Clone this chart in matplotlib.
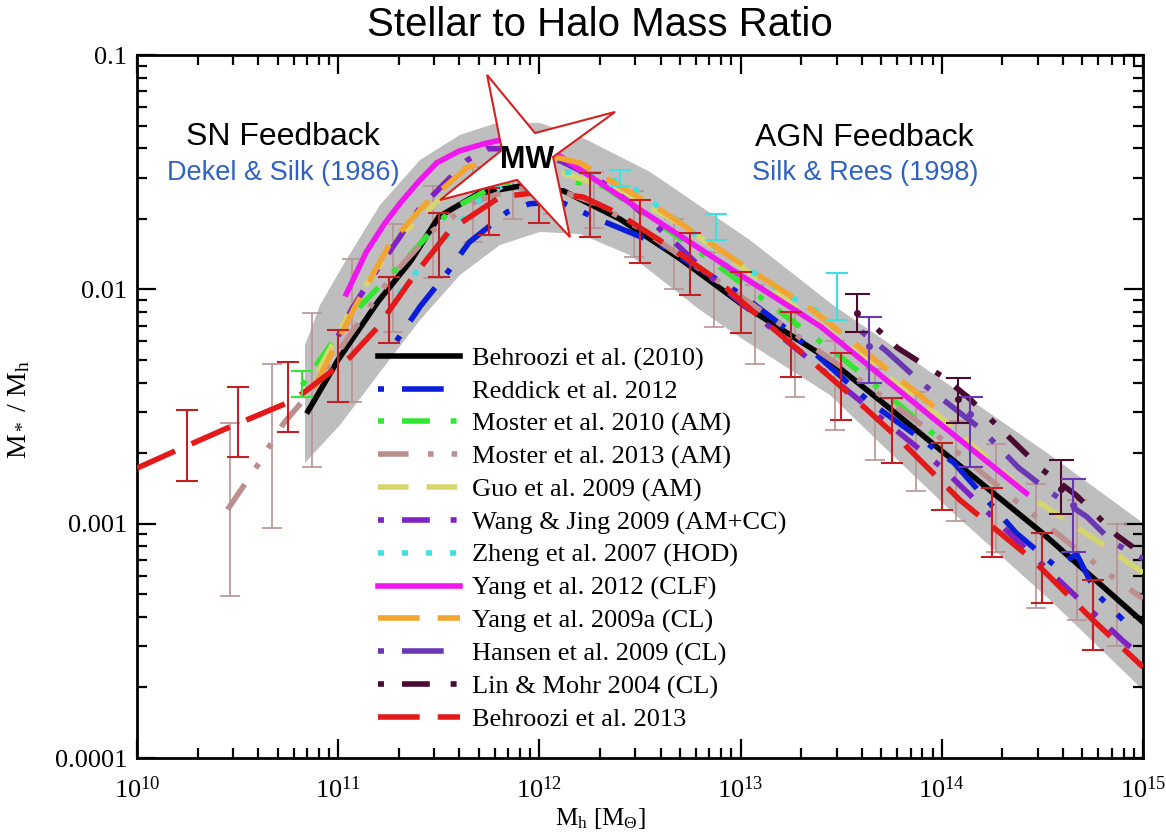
import numpy as np
import matplotlib
matplotlib.use('Agg')
import matplotlib.pyplot as plt
from matplotlib.ticker import FuncFormatter, LogLocator, NullFormatter

plt.rcParams['font.family'] = ['Liberation Serif', 'DejaVu Serif']
plt.rcParams['mathtext.fontset'] = 'custom'
plt.rcParams['mathtext.rm'] = 'Liberation Serif'
plt.rcParams['mathtext.it'] = 'Liberation Serif:italic'
plt.rcParams['lines.scale_dashes'] = False

# ---- data (log10 Mh, log10 M*/Mh) ----
band_up_m = [10.835, 10.91, 11.034, 11.208, 11.407, 11.605, 11.804, 12.003, 12.217, 12.55, 13.047, 13.459, 14.001, 14.538, 15.0]
band_up_r = [-2.238, -2.067, -1.883, -1.640, -1.448, -1.341, -1.286, -1.290, -1.354, -1.499, -1.790, -2.067, -2.387, -2.707, -2.997]
band_lo_m = [10.835, 11.009, 11.208, 11.407, 11.605, 11.804, 12.003, 12.202, 12.45, 12.798, 13.002, 13.444, 14.041, 14.538, 15.0]
band_lo_r = [-2.741, -2.579, -2.353, -2.131, -1.939, -1.811, -1.755, -1.764, -1.854, -2.088, -2.208, -2.451, -2.942, -3.326, -3.710]

behroozi10_m = [10.85, 11.0, 11.2, 11.36, 11.5, 11.7, 11.9, 12.12, 12.4, 12.7, 13.0, 13.44, 13.73, 14.0, 14.5, 15.0]
behroozi10_r = [-2.52, -2.30, -2.05, -1.88, -1.69, -1.59, -1.56, -1.58, -1.70, -1.87, -2.06, -2.30, -2.50, -2.69, -3.04, -3.42]

reddick_m = [11.29, 11.41, 11.55, 11.65, 11.84, 11.95, 12.1, 12.29, 12.6, 13.0, 13.26, 13.64, 14.06, 14.37, 14.57, 14.67, 14.77, 14.9]
reddick_r = [-2.22, -2.07, -1.92, -1.80, -1.67, -1.635, -1.625, -1.70, -1.81, -2.02, -2.19, -2.48, -2.74, -3.04, -3.185, -3.13, -3.30, -3.41]

moster10_m = [10.82, 10.96, 11.1, 11.36, 11.56, 11.8, 12.0, 12.32, 12.61, 12.81, 13.03, 13.5, 13.84, 14.03]
moster10_r = [-2.41, -2.24, -2.08, -1.85, -1.66, -1.55, -1.52, -1.56, -1.73, -1.85, -1.99, -2.29, -2.53, -2.67]

moster13_m = [10.45, 10.6, 10.73, 10.87, 11.07, 11.27, 11.47, 11.67, 11.87, 12.07, 12.27, 12.5, 13.0, 13.5, 14.0, 14.35, 14.82, 15.0]
moster13_r = [-2.94, -2.75, -2.57, -2.43, -2.18, -1.94, -1.75, -1.63, -1.57, -1.57, -1.63, -1.74, -2.03, -2.33, -2.64, -2.89, -3.21, -3.32]

guo_m = [10.9, 11.1, 11.3, 11.5, 11.7, 11.9, 12.1, 12.4, 12.7, 13.0, 13.5, 14.0, 14.45, 14.82, 15.0]
guo_r = [-2.35, -2.03, -1.78, -1.62, -1.53, -1.49, -1.50, -1.58, -1.72, -1.90, -2.22, -2.55, -2.89, -3.10, -3.21]

wang_m = [11.0, 11.07, 11.19, 11.4, 11.56, 11.64, 11.74, 11.9, 12.1, 12.29, 12.45, 12.66, 12.88, 13.2, 13.6, 14.0, 14.31, 14.9, 15.0]
wang_r = [-2.2, -2.08, -1.92, -1.66, -1.52, -1.45, -1.40, -1.40, -1.45, -1.53, -1.63, -1.79, -1.97, -2.20, -2.48, -2.76, -3.02, -3.50, -3.57]

zheng_m = [11.3, 11.45, 11.6, 11.7, 11.85, 12.0, 12.2, 12.44, 12.8, 13.0, 13.2, 13.44]
zheng_r = [-2.02, -1.86, -1.72, -1.62, -1.54, -1.50, -1.50, -1.55, -1.78, -1.89, -2.01, -2.12]

yang12_m = [11.04, 11.14, 11.23, 11.31, 11.4, 11.49, 11.6, 11.72, 11.82, 11.95, 12.1, 12.5, 13.0, 13.4, 14.0, 14.42]
yang12_r = [-2.02, -1.84, -1.72, -1.63, -1.54, -1.46, -1.41, -1.38, -1.36, -1.38, -1.43, -1.66, -1.94, -2.16, -2.58, -2.87]

yang09_m = [10.88, 11.08, 11.26, 11.44, 11.64, 11.8, 12.0, 12.2, 12.6, 13.0, 13.36, 13.96]
yang09_r = [-2.42, -2.08, -1.80, -1.63, -1.48, -1.44, -1.42, -1.46, -1.66, -1.89, -2.09, -2.50]

hansen_m = [13.6, 13.72, 13.9, 14.2, 14.38, 14.53, 14.72, 14.85, 15.0]
hansen_r = [-2.18, -2.26, -2.40, -2.60, -2.76, -2.86, -2.97, -3.08, -3.15]

lin_m = [13.68, 13.78, 14.0, 14.13, 14.5, 14.67, 14.87, 14.95]
lin_r = [-2.17, -2.25, -2.37, -2.46, -2.77, -2.88, -3.05, -3.10]

behroozi13_m = [10.0, 10.179, 10.462, 10.746, 10.825, 11.06, 11.193, 11.372, 11.556, 11.804, 12.003, 12.217, 12.386, 12.649, 12.883, 13.111, 13.33, 13.559, 13.777, 14.09, 14.453, 14.751, 15.0]
behroozi13_r = [-2.763, -2.694, -2.587, -2.485, -2.443, -2.289, -2.165, -1.947, -1.747, -1.606, -1.585, -1.606, -1.674, -1.819, -1.96, -2.131, -2.289, -2.46, -2.63, -2.899, -3.155, -3.411, -3.612]

# error bars: position, lower, upper (log10)
b13_err_m = [10.25, 10.5, 10.75, 11.0, 11.25, 11.5, 11.75, 12.0, 12.25, 12.5, 12.75, 13.0, 13.25, 13.5, 13.75, 14.0, 14.25, 14.5, 14.75]
b13_err_lo = [-2.818, -2.716, -2.609, -2.481, -2.229, -1.947, -1.768, -1.717, -1.777, -1.888, -2.024, -2.186, -2.374, -2.558, -2.741, -2.942, -3.143, -3.339, -3.539]
b13_err_hi = [-2.515, -2.417, -2.310, -2.174, -1.947, -1.674, -1.568, -1.589, -1.504, -1.619, -1.760, -1.926, -2.097, -2.272, -2.464, -2.656, -2.848, -3.040, -3.241]

m13_err_m = [10.46, 10.67, 10.87, 11.07, 11.27, 11.47, 11.67, 11.87, 12.07, 12.27, 12.47, 12.67, 12.87, 13.07, 13.27, 13.47, 13.67, 13.87, 14.07, 14.27, 14.47, 14.67, 14.87]
m13_err_lo = [-3.31, -3.02, -2.76, -2.48, -2.18, -1.95, -1.80, -1.70, -1.68, -1.74, -1.86, -2.00, -2.16, -2.32, -2.46, -2.60, -2.73, -2.86, -2.99, -3.12, -3.36, -3.41, -3.52]
m13_err_hi = [-2.57, -2.32, -2.10, -1.87, -1.72, -1.56, -1.48, -1.44, -1.46, -1.50, -1.58, -1.70, -1.84, -1.98, -2.10, -2.22, -2.34, -2.44, -2.56, -2.66, -2.83, -2.90, -3.00]

zheng_err_m = [12.4, 12.88, 13.48]
zheng_err_lo = [-1.56, -1.79, -2.13]
zheng_err_hi = [-1.49, -1.68, -1.93]

m10_err_m = [10.82]
m10_err_lo = [-2.46]
m10_err_hi = [-2.35]

lin_err_m = [13.58, 14.08, 14.59]
lin_err_pt = [-2.10, -2.47, -2.85]
lin_err_lo = [-2.18, -2.57, -2.96]
lin_err_hi = [-2.02, -2.38, -2.73]

hansen_err_m = [13.64, 14.14, 14.65]
hansen_err_pt = [-2.24, -2.53, -2.92]
hansen_err_lo = [-2.40, -2.76, -3.12]
hansen_err_hi = [-2.12, -2.46, -2.81]

star_m = [11.74, 11.978, 12.376, 12.068, 12.152, 11.889, 11.506, 11.814]
star_r = [-1.085, -1.333, -1.243, -1.435, -1.777, -1.533, -1.619, -1.405]

labels = ['Behroozi et al. (2010)', 'Reddick et al. 2012', 'Moster et al. 2010 (AM)',
          'Moster et al. 2013 (AM)', 'Guo et al. 2009 (AM)', 'Wang & Jing 2009 (AM+CC)',
          'Zheng et al. 2007 (HOD)', 'Yang et al. 2012 (CLF)', 'Yang et al. 2009a (CL)',
          'Hansen et al. 2009 (CL)', 'Lin & Mohr 2004 (CL)', 'Behroozi et al. 2013']


def p(a):
    return 10 ** np.asarray(a, dtype=float)


def mid(lo, hi):
    return [(a + b) / 2 for a, b in zip(lo, hi)]


fig = plt.figure(figsize=(11.66, 8.38), dpi=100)
ax = fig.add_axes([137 / 1166, 1 - 758 / 838, 1006 / 1166, 703 / 838])
ax.set_xscale('log')
ax.set_yscale('log')
ax.set_xlim(1e10, 1e15)
ax.set_ylim(1e-4, 0.1)

# grey scatter band
ax.fill(p(band_up_m + band_lo_m[::-1]), p(band_up_r + band_lo_r[::-1]),
        color='#bebebe', lw=0, zorder=1)


def bars(m, lo, hi, pt, col, lw_=1.3, cap=7, ms=0, z=4):
    pt = p(pt)
    ax.errorbar(p(m), pt, yerr=[pt - p(lo), p(hi) - pt], fmt='o' if ms else 'none',
                ms=ms, color=col, ecolor=col, elinewidth=lw_, capsize=cap,
                capthick=lw_, zorder=z)


# Moster 2013 error bars (thin, behind)
bars(m13_err_m, m13_err_lo, m13_err_hi, mid(m13_err_lo, m13_err_hi), '#b99393', 1.2, 7, 0, 2)

lw = 4
dot_dash = (0, (4.3, 13, 30, 13))
dot_dash_dot = (0, (4.3, 13, 20, 15))
dash_dot_dot = (0, (22, 14, 4, 13, 4, 14))
styles = [
    (behroozi10_m, behroozi10_r, '#000000', '-'),
    (reddick_m, reddick_r, '#0a1ed8', dot_dash),
    (moster10_m, moster10_r, '#33e633', dot_dash_dot),
    (moster13_m, moster13_r, '#bc8f8f', dash_dot_dot),
    (guo_m, guo_r, '#d6d66e', (0, (22, 13))),
    (wang_m, wang_r, '#7f22c4', dot_dash_dot),
    (zheng_m, zheng_r, '#40e0e0', (0, (4.3, 13))),
    (yang12_m, yang12_r, '#ee18ee', '-'),
    (yang09_m, yang09_r, '#f2a531', (0, (30, 13))),
    (hansen_m, hansen_r, '#6a38b4', dot_dash),
    (lin_m, lin_r, '#4a0a32', dot_dash_dot),
    (behroozi13_m, behroozi13_r, '#e41a1a', (0, (30, 13))),
]
handles = []
for (m, r, c, ls), lab in zip(styles, labels):
    h, = ax.plot(p(m), p(r), color=c, ls=ls, lw=lw, label=lab, zorder=3)
    handles.append(h)

# other error bars
bars(b13_err_m, b13_err_lo, b13_err_hi, mid(b13_err_lo, b13_err_hi), '#c41f24', 1.5, 8)
bars(zheng_err_m, zheng_err_lo, zheng_err_hi, mid(zheng_err_lo, zheng_err_hi), '#40e0e0', 1.5, 8)
bars(m10_err_m, m10_err_lo, m10_err_hi, mid(m10_err_lo, m10_err_hi), '#33e633', 1.5, 8)
bars(lin_err_m, lin_err_lo, lin_err_hi, lin_err_pt, '#4a0a32', 1.5, 9, 4)
bars(hansen_err_m, hansen_err_lo, hansen_err_hi, hansen_err_pt, '#6a38b4', 1.5, 9, 4)

# Milky Way star
ax.fill(p(star_m), p(star_r), facecolor='white', edgecolor='#d62020', lw=1.5, zorder=6)
fig.text(527 / 1166, 1 - 160 / 838, 'MW', ha='center', va='center', fontsize=22,
         fontweight='bold', family='Liberation Sans', zorder=7)

# axes cosmetics
ax.xaxis.set_major_locator(LogLocator(base=10, numticks=10))
ax.xaxis.set_minor_locator(LogLocator(base=10, subs=np.arange(2, 10), numticks=20))
ax.yaxis.set_major_locator(LogLocator(base=10, numticks=10))
ax.yaxis.set_minor_locator(LogLocator(base=10, subs=np.arange(2, 10), numticks=20))
ax.xaxis.set_minor_formatter(NullFormatter())
ax.yaxis.set_minor_formatter(NullFormatter())
ax.xaxis.set_major_formatter(FuncFormatter(lambda v, pos: r'$\mathregular{10^{%d}}$' % round(np.log10(v))))
ylab = {-4: '0.0001', -3: '0.001', -2: '0.01', -1: '0.1'}
ax.yaxis.set_major_formatter(FuncFormatter(lambda v, pos: ylab.get(int(round(np.log10(v))), '')))
ax.tick_params(which='both', direction='in', top=True, right=True, labelsize=19, width=1.6)
ax.tick_params(which='major', length=14)
ax.tick_params(axis='x', which='major', pad=13)
ax.tick_params(axis='y', which='major', pad=7)
ax.tick_params(which='minor', length=7)
for s in ax.spines.values():
    s.set_linewidth(2)

ax.set_xlabel(r'M$_\mathrm{h}$ [M$_\Theta$]', fontsize=18)
ax.xaxis.set_label_coords((600 - 137) / 1006, -0.068)
ax.set_ylabel(r'M$_*$ / M$_\mathrm{h}$', fontsize=20)
ax.yaxis.set_label_coords(-0.104, 0.495)

leg = ax.legend(handles=handles, loc='upper left', bbox_to_anchor=(0.2396, 0.585),
                frameon=False, fontsize=19, handlelength=3.1, handletextpad=0.45,
                labelspacing=0.34, borderpad=0, borderaxespad=0)

fig.text(600 / 1166, 1 - 25 / 838, 'Stellar to Halo Mass Ratio', ha='center', va='center',
         fontsize=29, family='Liberation Sans')
fig.text(283 / 1166, 1 - 137 / 838, 'SN Feedback', ha='center', va='center',
         fontsize=23, family='Liberation Sans')
fig.text(283 / 1166, 1 - 173 / 838, 'Dekel & Silk (1986)', ha='center', va='center',
         fontsize=19.5, family='Liberation Sans', color='#2f62c0')
fig.text(864 / 1166, 1 - 138 / 838, 'AGN Feedback', ha='center', va='center',
         fontsize=23, family='Liberation Sans')
fig.text(865 / 1166, 1 - 173 / 838, 'Silk & Rees (1998)', ha='center', va='center',
         fontsize=19.5, family='Liberation Sans', color='#2f62c0')

fig.savefig('out.png', dpi=100)
